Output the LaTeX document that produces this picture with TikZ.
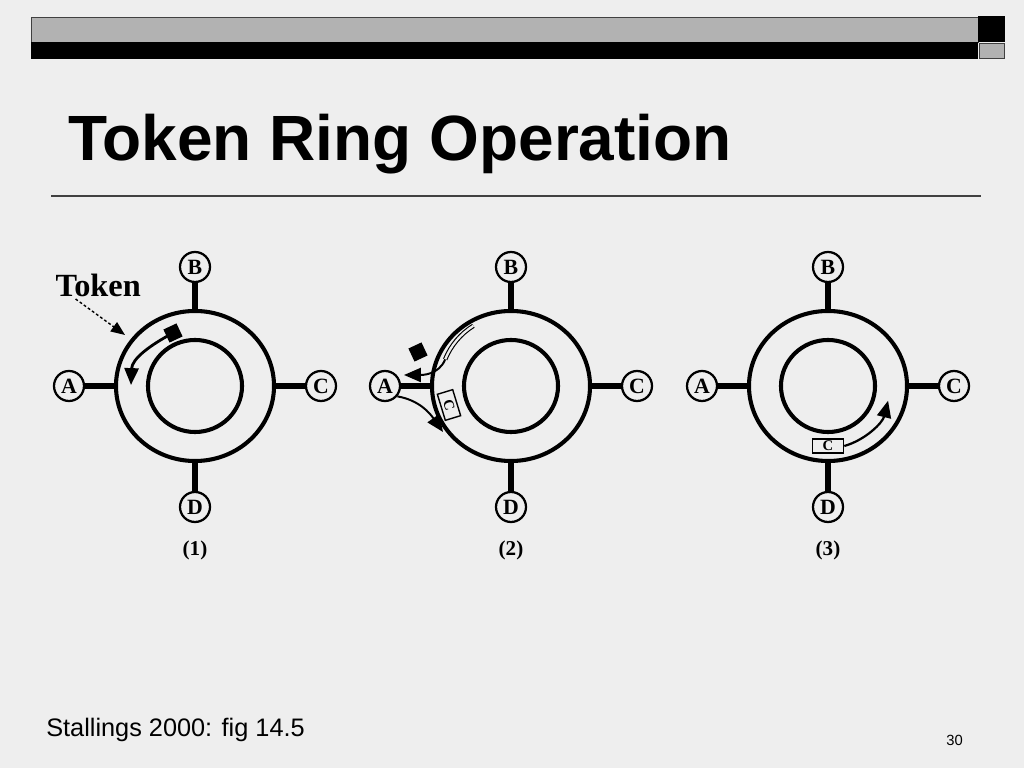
\documentclass[tikz,border=0pt]{standalone}
\usepackage{fontspec}
\setmainfont{Liberation Sans}
\newfontfamily\figfont{Liberation Serif}
\usetikzlibrary{shapes.geometric,arrows.meta,calc}

\definecolor{slidebg}{HTML}{EEEEEE}
\definecolor{bargray}{HTML}{B2B2B2}
\definecolor{rulegray}{HTML}{404040}

\tikzset{
    ring/.style={ellipse, draw, line width=2.9pt, minimum width=3.95cm, minimum height=3.75cm, inner sep=0pt},
    hub/.style={ellipse, draw, line width=2.9pt, minimum width=2.35cm, minimum height=2.3cm, inner sep=0pt},
    station/.style={circle, draw, fill=slidebg, line width=1.6pt, minimum size=0.75cm, inner sep=0pt,
        font=\figfont\bfseries\fontsize{15.5}{15.5}\selectfont},
    stub/.style={line width=3.6pt},
    ringlabel/.style={font=\figfont\bfseries\fontsize{15}{15}\selectfont},
    token/.style={fill=black, minimum size=0.36cm, inner sep=0pt},
    dataframe/.style={draw, fill=slidebg, line width=1pt, minimum width=0.78cm, minimum height=0.35cm,
        inner sep=0pt, font=\figfont\bfseries\fontsize{10.5}{10.5}\selectfont},
    tokenarrow/.style={line width=2pt, -{Triangle[length=12pt,width=10pt]}},
    pointer/.style={line width=1pt, dash pattern=on 2pt off 1.6pt, -{Triangle[length=10pt,width=8pt]}}
}

\begin{document}
\begin{tikzpicture}[x=0.025cm, y=0.025cm]
    % slide background
    \fill[slidebg] (0,0) rectangle (1024,768);
    \useasboundingbox (0,0) rectangle (1024,768);

    % header bar
    \filldraw[fill=bargray, draw=rulegray, line width=0.5pt] (31,726) rectangle (978,751);
    \fill[black] (31,709) rectangle (978,726);
    \fill[black] (978,726) rectangle (1005,752);
    \filldraw[fill=bargray, draw=rulegray, line width=0.5pt] (979,710) rectangle (1004,725);

    % title and rule
    \node[anchor=base west, inner sep=0pt, font=\bfseries\fontsize{45.5}{45.5}\selectfont] (title) at (68,607) {Token Ring Operation};
    \draw[rulegray, line width=1pt] (51,572) -- (981,572);

    % footer
    \node[anchor=base west, inner sep=0pt, font=\fontsize{18}{18}\selectfont] (source) at (46,31) {Stallings 2000: fig 14.5};
    \node[anchor=base east, inner sep=0pt, font=\fontsize{10.5}{10.5}\selectfont] (pageno) at (963,22) {30};

    % rings and stations
    \foreach \n/\cx in {1/195, 2/511, 3/828} {
        \node[ring] (ring\n) at (\cx,382) {};
        \node[hub] (hub\n) at (\cx,382) {};
        \node[station] (A\n) at (\cx-126,382) {A};
        \node[station] (B\n) at (\cx,501) {B};
        \node[station] (C\n) at (\cx+126,382) {C};
        \node[station] (D\n) at (\cx,261) {D};
        \foreach \s in {A,B,C,D}
            \draw[stub] (\s\n) -- (ring\n);
        \node[ringlabel] (cap\n) at (\cx,218) {(\n)};
    }

    %% (1) free token
    \node[font=\figfont\bfseries\fontsize{23}{23}\selectfont, anchor=base west, inner sep=1pt] (tokenlbl) at (54,471) {Token};
    \coordinate (ptip) at (125,433);
    \draw[pointer] (tokenlbl.210) -- (ptip);
    \coordinate (tip1) at (131,383);
    \draw[tokenarrow] (173,435) to[out=208, in=88] (tip1);
    \node[token, rotate=25] (tok1) at (173,435) {};

    %% (2) A seizes token, sends frame
    \draw[line width=0.8pt, double=slidebg, double distance=1.6pt] ($(ring2)+(122:71)$) arc[start angle=122, end angle=158, radius=71];
    \coordinate (tip2a) at (404,393);
    \draw[tokenarrow, line width=1.4pt] ($(ring2)+(158:71)$) to[out=248, in=0] (tip2a);
    \node[token, rotate=25] (tok2) at (418,416) {};
    \coordinate (tip2b) at (443,336);
    \draw[tokenarrow, line width=1.4pt] (A2.-40) to[out=-10, in=125] (tip2b);
    \node[dataframe, rotate=-73, minimum width=0.68cm, minimum height=0.4cm] (frame2) at (449,363) {C};

    %% (3) frame travels on
    \node[dataframe] (frame3) at (828,322) {C};
    \draw[tokenarrow, line width=1.6pt] (frame3.east) arc[start angle=-74, end angle=-14, radius=63];
\end{tikzpicture}
\end{document}
